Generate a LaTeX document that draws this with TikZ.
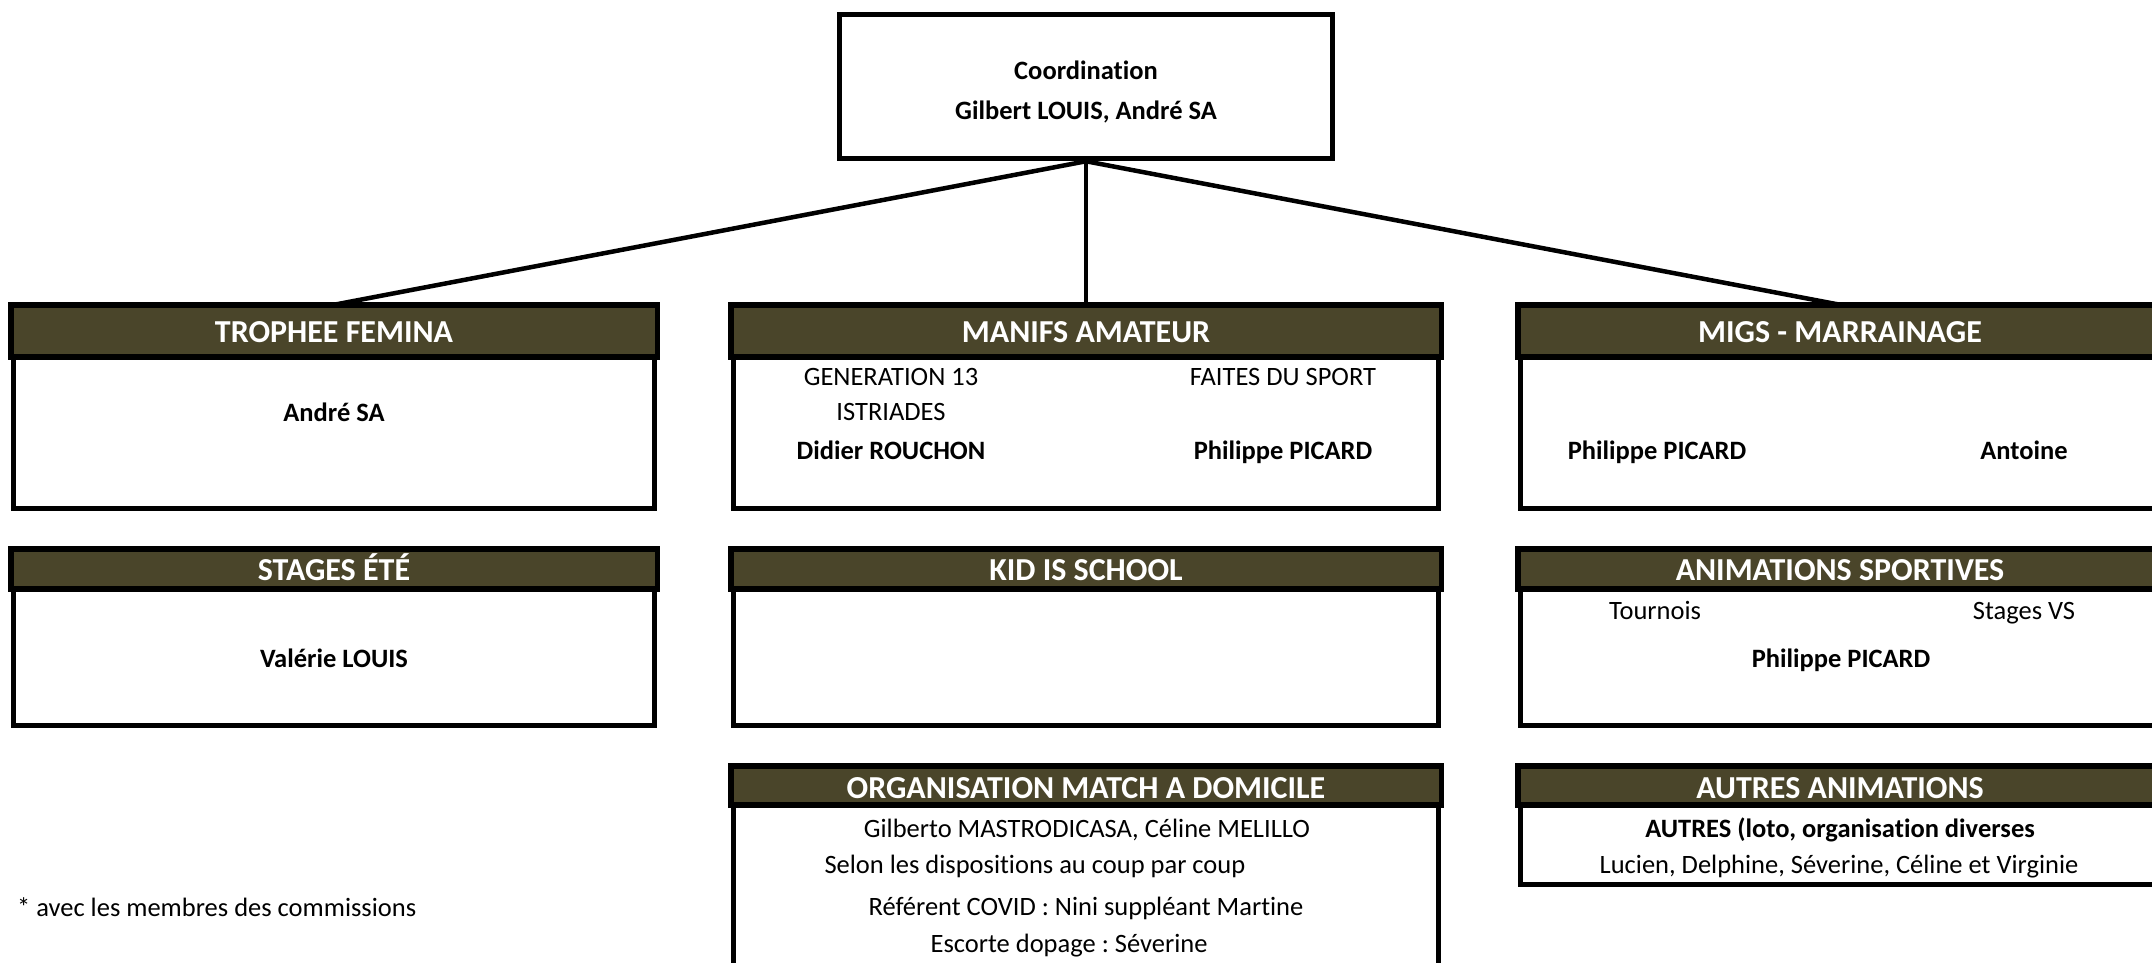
\documentclass[tikz,border=0pt]{standalone}
\usepackage{fontspec}
\setmainfont{Carlito}[Ligatures={NoCommon,NoRequired,NoContextual}]
\frenchspacing
\usetikzlibrary{calc}
\definecolor{hdr}{RGB}{74,69,42}
\tikzset{
 unitbox/.style={draw=black, line width=5.5pt, fill=white, inner sep=0pt},
 headbar/.style={draw=black, line width=5.5pt, fill=hdr},
 headtext/.style={text=white, font=\fontsize{32}{38}\selectfont\bfseries, inner sep=0pt, text height=20.6pt, text depth=0pt},
 body/.style={font=\fontsize{26.5}{32}\selectfont, inner sep=0pt, text height=17pt, text depth=0pt},
 bodyb/.style={body, font=\fontsize{26.5}{32}\selectfont\bfseries},
 link/.style={line width=4.5pt},
}
\begin{document}
\begin{tikzpicture}[x=1pt,y=-1pt]
\useasboundingbox (0,0) rectangle (2152,962);
\clip (0,0) rectangle (2152,962);

% top box
\node[unitbox, minimum width=493pt, minimum height=144pt] (coord) at (1086,86.5) {};
\node[bodyb] (coordt1) at (1086,71) {Coordination};
\node[bodyb] (coordt2) at (1086,111) {Gilbert LOUIS, André SA};

% row 1 boxes
\node[unitbox, minimum width=641pt, minimum height=201pt] (tf) at (334,408) {};
\node[unitbox, minimum width=705pt, minimum height=201pt] (ma) at (1086,408) {};
\node[unitbox, minimum width=639pt, minimum height=201pt] (mi) at (1840,408) {};

% connectors
\draw[link] (coord.south) -- (tf.north);
\draw[link] (coord.south) -- (ma.north);
\draw[link] (coord.south) -- (mi.north);

\foreach \b in {tf,ma,mi}{
  \path[headbar] (\b.north west) rectangle ($(\b.north east)+(0,52)$);
}
\node[headtext] (tfh) at (334,332) {TROPHEE FEMINA};
\node[headtext] (mah) at (1086,332) {MANIFS AMATEUR};
\node[headtext] (mih) at (1840,332) {MIGS - MARRAINAGE};

\node[bodyb] (tf1) at (334,413) {André SA};

\node[body] (ma1) at (891,377) {GENERATION 13};
\node[body] (ma2) at (891,412) {ISTRIADES};
\node[bodyb] (ma3) at (891,451) {Didier ROUCHON};
\node[body] (ma4) at (1283,377) {FAITES DU SPORT};
\node[bodyb] (ma5) at (1283,451) {Philippe PICARD};

\node[bodyb] (mi1) at (1657,451) {Philippe PICARD};
\node[bodyb] (mi2) at (2024,451) {Antoine};

% row 2 boxes
\node[unitbox, minimum width=641pt, minimum height=174pt] (se) at (334,638.5) {};
\node[unitbox, minimum width=705pt, minimum height=174pt] (ki) at (1086,638.5) {};
\node[unitbox, minimum width=639pt, minimum height=174pt] (an) at (1840,638.5) {};
\foreach \b in {se,ki,an}{
  \path[headbar] (\b.north west) rectangle ($(\b.north east)+(0,40)$);
}
\node[headtext] (seh) at (334,570) {STAGES ÉTÉ};
\node[headtext] (kih) at (1086,570) {KID IS SCHOOL};
\node[headtext] (anh) at (1840,570) {ANIMATIONS SPORTIVES};

\node[bodyb] (se1) at (334,659) {Valérie LOUIS};
\node[body] (an1) at (1655,611) {Tournois};
\node[body] (an2) at (2024,611) {Stages VS};
\node[bodyb] (an3) at (1841,659) {Philippe PICARD};

% row 3 boxes
\node[unitbox, minimum width=705pt, minimum height=229pt] (om) at (1086,883) {};
\node[unitbox, minimum width=639pt, minimum height=116pt] (aa) at (1840,826.5) {};
\foreach \b in {om,aa}{
  \path[headbar] (\b.north west) rectangle ($(\b.north east)+(0,39)$);
}
\node[headtext] (omh) at (1086,788) {ORGANISATION MATCH A DOMICILE};
\node[headtext] (aah) at (1840,788) {AUTRES ANIMATIONS};

\node[body] (om1) at (1087,829) {Gilberto MASTRODICASA, Céline MELILLO};
\node[body] (om2) at (1035,865) {Selon les dispositions au coup par coup};
\node[body] (om3) at (1086,907) {Référent COVID : Nini suppléant Martine};
\node[body] (om4) at (1069,944) {Escorte dopage : Séverine};

\node[bodyb] (aa1) at (1840,829) {AUTRES (loto, organisation diverses};
\node[body] (aa2) at (1839,865) {Lucien, Delphine, Séverine, Céline et Virginie};

\node[body, anchor=west] (note) at (17,908) {* avec les membres des commissions};
\end{tikzpicture}
\end{document}
